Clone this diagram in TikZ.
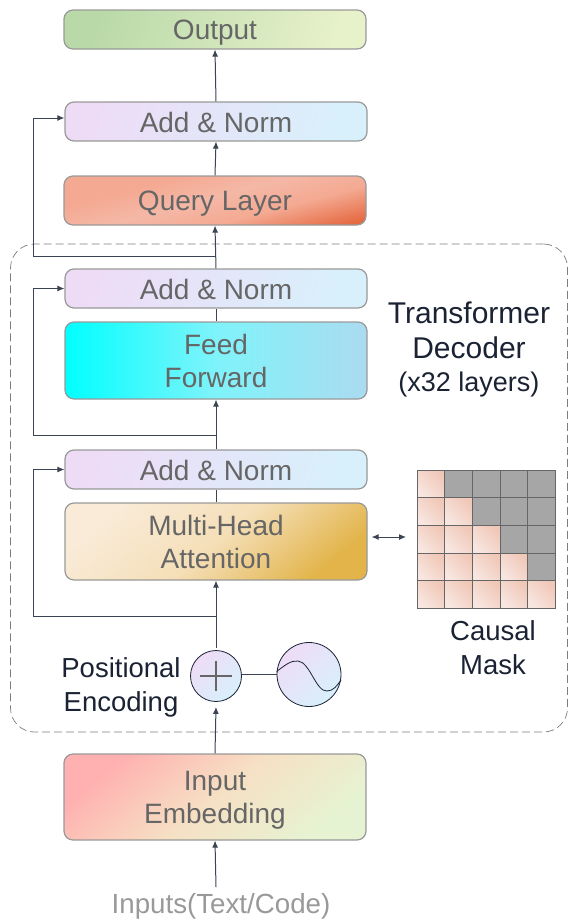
\documentclass[tikz,border=0pt]{standalone}
\usepackage{fontspec}
\setmainfont{Liberation Sans}
\usetikzlibrary{arrows.meta}
\definecolor{inkdark}{HTML}{1A2233}
\definecolor{textgrey}{HTML}{666666}
\definecolor{edgegrey}{HTML}{999999}
\definecolor{addleft}{HTML}{EEDCF6}
\definecolor{addright}{HTML}{D8F0FB}
\definecolor{outleft}{HTML}{B9D9A8}
\definecolor{outright}{HTML}{E7F1CA}
\definecolor{feedright}{HTML}{ABDBF0}
\definecolor{feedmid}{HTML}{7FF3FA}
\definecolor{mhaleft}{HTML}{F9EBD8}
\definecolor{mhamid}{HTML}{F5DFB8}
\definecolor{mharight}{HTML}{E2B44A}
\definecolor{inleft}{HTML}{FFB0B0}
\definecolor{inmid}{HTML}{F6E0C4}
\definecolor{inright}{HTML}{E6F3D2}
\definecolor{maskgrey}{HTML}{A6A6A6}
\definecolor{maskleft}{HTML}{F0C8B8}
\definecolor{maskright}{HTML}{F8E6E0}
\definecolor{queryhot}{HTML}{E56A42}
\definecolor{querymid}{HTML}{F4A992}
\definecolor{querylight}{HTML}{F4B8A6}
\pgfdeclareverticalshading{queryshade}{100bp}{color(0bp)=(queryhot); color(22bp)=(queryhot); color(38bp)=(querymid); color(52bp)=(querylight); color(66bp)=(querymid); color(100bp)=(querymid)}
\begin{document}
\begin{tikzpicture}[
            x=1pt, y=-1pt,
            block/.style={draw=edgegrey, line width=1.2pt, rectangle, rounded corners=9pt, minimum width=302pt, inner sep=0pt, align=center, text=textgrey, font=\fontsize{28}{33}\selectfont},
            thin block/.style={block, minimum height=39pt, text height=22pt, text depth=0pt},
            addnorm/.style={thin block, left color=addleft, right color=addright, shading angle=70},
            caption/.style={inner sep=0pt, align=center, text=inkdark, font=\fontsize{27.5}{34}\selectfont},
            round/.style={draw=inkdark, line width=0.8pt, circle, inner sep=0pt, left color=addleft, right color=addright, shading angle=45},
            link/.style={draw=inkdark!85!white, line width=1pt},
            arrow/.style={link, -{Latex[length=7pt,width=6pt]}},
            maskon/.style={draw=textgrey, line width=1pt, rectangle, minimum size=27.6pt, inner sep=0pt, fill=maskgrey},
            maskoff/.style={draw=textgrey, line width=1pt, rectangle, minimum size=27.6pt, inner sep=0pt, left color=maskleft, right color=maskright, shading angle=-45}
        ]
        \useasboundingbox (0, 0) rectangle (568, 919);

        \node [draw=textgrey!85!white, line width=0.7pt, dash pattern=on 8pt off 4pt, rectangle, rounded corners=24pt, minimum width=557pt, minimum height=488pt, inner sep=0pt] (Dec) at (289, 488) {};

        \node [thin block, text height=20.5pt, left color=outleft, right color=outright, shading angle=70] (Out) at (215, 29.5) {Output};
        \node [addnorm] (AddC) at (216, 121.5) {Add \& Norm};
        \node [block, minimum height=49pt, text height=19pt, text depth=0pt, shading=queryshade, shading angle=15] (Query) at (215, 200.5) {Query Layer};
        \node [addnorm] (AddB) at (216, 288.5) {Add \& Norm};
        \node [block, minimum height=77pt, left color=cyan, right color=feedright, middle color=feedmid] (Feed) at (216, 360.5) {Feed\\Forward};
        \node [addnorm] (AddA) at (216, 469.5) {Add \& Norm};
        \node [block, minimum height=77pt, left color=mhaleft, right color=mharight, middle color=mhamid, shading angle=40] (Mha) at (216, 541.5) {Multi-Head\\Attention};
        \node [block, minimum height=86pt, text depth=0pt, left color=inleft, right color=inright, middle color=inmid, shading angle=40] (Emb) at (215, 797) {Input\\Embedding};

        \node [round, minimum size=51pt] (Plus) at (216, 676) {};
        \node [round, minimum size=64pt] (Wave) at (309, 674.5) {};
        \draw [textgrey, line width=1.2pt] (Plus.center) ++(-16, 0) -- ++(32, 0) (Plus.center) ++(0, -15) -- ++(0, 30);
        \draw [inkdark, line width=0.8pt] (Wave.west) ++(0, -3) .. controls (284, 666) and (291, 660) .. (298, 661) .. controls (310, 662) and (316, 692) .. (327, 691) .. controls (333, 691) and (337, 686) .. (341, 680);

        \node [caption, font=\fontsize{30}{35}\selectfont] (Tit) at (469, 330) {Transformer\\Decoder};
        \node [caption, font=\fontsize{27}{34}\selectfont] (Lay) at (469, 385) {(x32 layers)};
        \node [caption] (Pos) at (121, 687) {Positional\\Encoding};
        \node [caption] (Cau) at (493, 648) {Causal\\Mask};
        \node [inner sep=0pt, text=edgegrey, font=\fontsize{27.7}{33}\selectfont] (In) at (221, 906) {Inputs(Text/Code)};

        \foreach \r in {0,...,4} {
            \foreach \c in {0,...,4} {
                \ifnum\c>\r \def\cellstyle{maskon}\else\def\cellstyle{maskoff}\fi
                \node [\cellstyle] (M\r\c) at (431+\c*27.6, 484+\r*27.6) {};
            }
        }

        \coordinate (TapC) at (216, 256);
        \coordinate (TapB) at (216, 435);
        \coordinate (TapA) at (216, 616);
        \coordinate (InTop) at (216, 887);

        \draw [arrow] (AddC.north) -- (Out.south);
        \draw [arrow] (Query.north) -- (AddC.south);
        \draw [arrow] (AddB.north) -- (Query.south);
        \draw [link] (Feed.north) -- (AddB.south);
        \draw [arrow] (AddA.north) -- (Feed.south);
        \draw [link] (Mha.north) -- (AddA.south);
        \draw [arrow] ([yshift=2pt]Plus.north) -- (Mha.south);
        \draw [arrow] (Emb.north) -- ([yshift=-5pt]Plus.south);
        \draw [arrow] (InTop) -- (Emb.south);
        \draw [link] (Plus.east |- Wave.west) -- (Wave.west);
        \draw [link, {Latex[length=7pt,width=6pt]}-{Latex[length=7pt,width=6pt]}] ([xshift=4pt,yshift=4.5pt]Mha.east) -- (406, 537);

        \draw [arrow] (TapC) -- (33, 256) |- ([yshift=3.5pt]AddC.west);
        \draw [arrow] (TapB) -- (33, 435) |- (AddB.west);
        \draw [arrow] (TapA) -- (33, 616) |- (AddA.west);

        \end{tikzpicture}
\end{document}
